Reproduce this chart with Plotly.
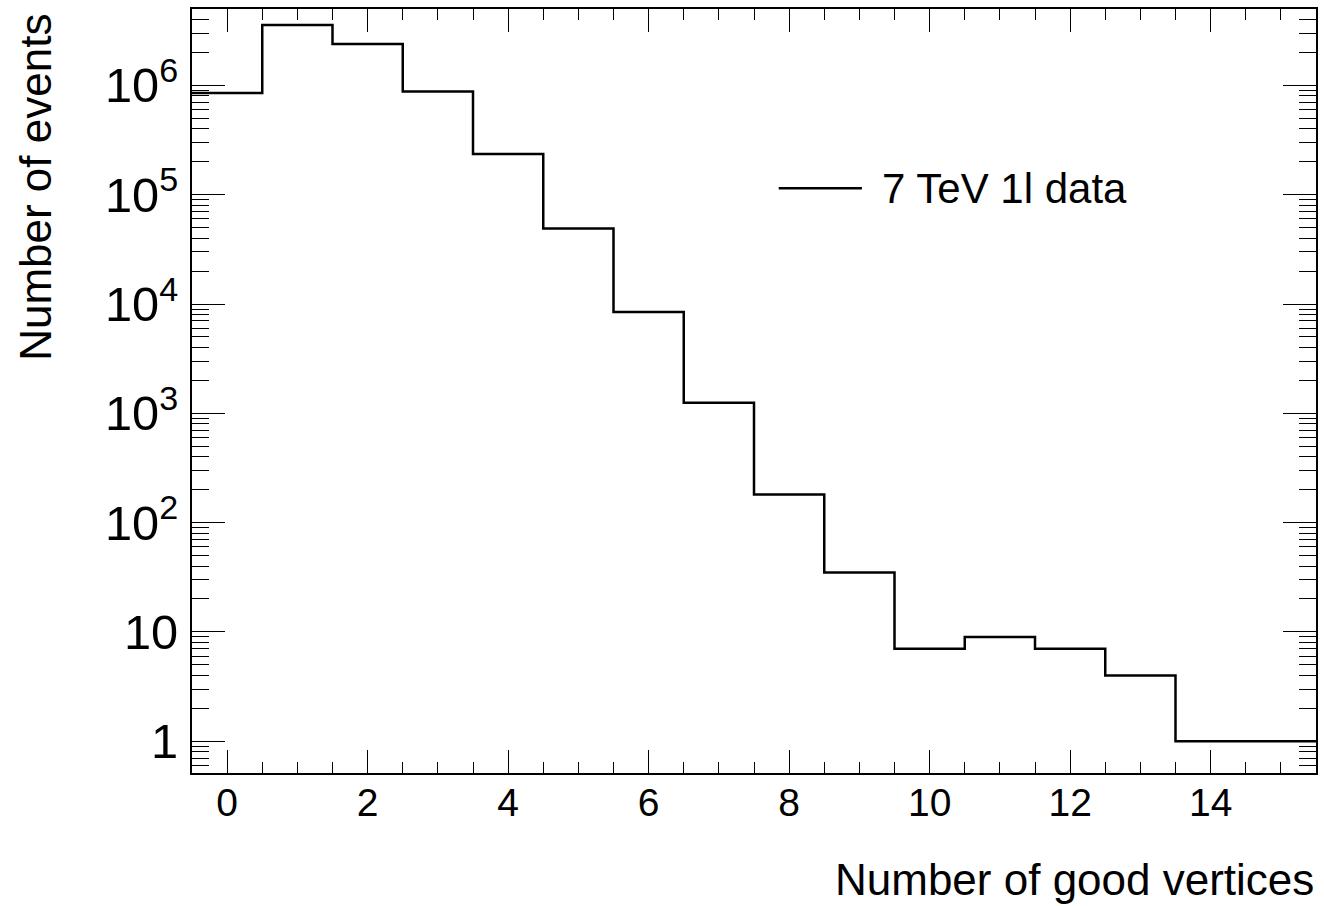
import plotly.graph_objects as go

# Histogram of good-vertex multiplicity (bin centres and counts)
vertex_bins = list(range(16))
event_counts = [8.5e5, 3.57e6, 2.39e6, 8.8e5, 2.36e5, 4.9e4, 8.45e3, 1250,
                181, 35, 7, 9, 7, 4, 1, 1]
bin_width = 1.0
series_name = "7 TeV 1l data"
x_title = "Number of good vertices"
y_title = "Number of events"

# Bin edges for a step-style histogram outline
edges = [c - bin_width / 2 for c in vertex_bins] + [vertex_bins[-1] + bin_width / 2]
step_y = event_counts + [event_counts[-1]]

FONT = "Liberation Sans, Arial, Helvetica, sans-serif"

fig = go.Figure()
fig.add_trace(go.Scatter(
    x=edges, y=step_y, mode="lines", line_shape="hv",
    line=dict(color="black", width=2.5), name=series_name, showlegend=False,
    hoverinfo="skip",
))

fig.update_layout(
    width=1324, height=906,
    margin=dict(l=192, r=6, t=9, b=133),
    paper_bgcolor="white", plot_bgcolor="white",
    font=dict(family=FONT, color="black"),
    xaxis=dict(
        range=[-0.5, 15.5], tick0=0, dtick=2, ticks="inside", ticklen=23,
        tickwidth=1.2, tickcolor="black", showgrid=False, zeroline=False,
        showline=True, linewidth=2, linecolor="black", mirror="allticks",
        tickfont=dict(size=39, family=FONT), ticklabelstandoff=-6,
        minor=dict(dtick=0.5, ticks="inside", ticklen=11, tickwidth=1.2,
                   tickcolor="black", showgrid=False),
    ),
    yaxis=dict(
        type="log", range=[-0.291, 6.699], dtick=1, exponentformat="power",
        ticks="inside", ticklen=33, tickwidth=1.2, tickcolor="black",
        showgrid=False, zeroline=False, showline=True, linewidth=2,
        linecolor="black", mirror="allticks",
        tickfont=dict(size=39, family=FONT), ticklabelstandoff=4,
        minor=dict(dtick="D1", ticks="inside", ticklen=17, tickwidth=1.2,
                   tickcolor="black", showgrid=False),
    ),
    annotations=[
        dict(text=x_title, xref="paper", yref="paper", x=1.0, y=-0.140,
             xanchor="right", yanchor="middle", showarrow=False,
             font=dict(size=44, family=FONT)),
        dict(text=y_title, xref="paper", yref="paper", x=-0.1394, y=0.996,
             xanchor="center", yanchor="top", textangle=-90, showarrow=False,
             font=dict(size=44, family=FONT)),
        dict(text=series_name, xref="paper", yref="paper", x=0.6125, y=0.765,
             xanchor="left", yanchor="middle", showarrow=False,
             font=dict(size=42, family=FONT)),
    ],
    shapes=[
        dict(type="line", xref="paper", yref="paper", x0=0.522, x1=0.596,
             y0=0.7653, y1=0.7653, line=dict(color="black", width=2.5)),
    ],
)

fig.write_html("out.html")
